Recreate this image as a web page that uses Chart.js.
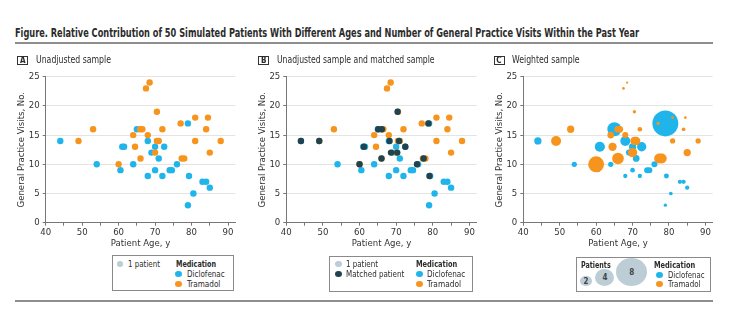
<!DOCTYPE html>
<html>
<head>
<meta charset="utf-8">
<script src="https://cdn.jsdelivr.net/npm/chart.js@4.4.1/dist/chart.umd.min.js"></script>
<style>
  html, body { margin: 0; padding: 0; background: #fff; }
  body {
    width: 740px; height: 323px; position: relative; overflow: hidden;
    font-family: 'Liberation Sans Narrow', 'DejaVu Sans Condensed', sans-serif;
    color: #2b2b2b;
  }
  .abs { position: absolute; white-space: nowrap; }
  canvas { position: absolute; }
  .rule { position: absolute; left: 15px; width: 698px; height: 2px; background: #8e8e8e; }
  .tag {
    position: absolute; box-sizing: border-box; width: 11px; height: 9px;
    border: 1px solid #333; font-size: 8px; font-weight: bold;
    text-align: center; line-height: 7px;
  }
  .lbox { position: absolute; box-sizing: border-box; border: 1px solid #8a8a8a; }
  .dot { position: absolute; border-radius: 50%; }
  .bub {
    position: absolute; border-radius: 50%; background: #bccdd6;
    display: flex; align-items: center; justify-content: center;
    font-size: 8px; font-weight: bold; color: #444;
  }
</style>
</head>
<body>
<canvas id="chartA" width="245" height="191" style="left:0px;top:62px;width:245px;height:191px"></canvas>
<canvas id="chartB" width="245" height="191" style="left:240px;top:62px;width:245px;height:191px"></canvas>
<canvas id="chartC" width="260" height="191" style="left:480px;top:62px;width:260px;height:191px"></canvas>

<script>
// Diclofenac patients (age, visits, weight in panel C)
const diclofenacAge    = [44, 54, 60.5, 61, 61.5, 64, 65, 68, 68, 69, 70, 70, 71, 72.5, 72, 74, 74.6, 76, 79, 79.3, 79, 80.5, 83, 84, 85];
const diclofenacVisits = [14, 10, 9, 13, 13, 10, 16, 14, 8, 12, 13, 9, 11, 13, 8, 9, 9, 10, 17, 8, 3, 5, 7, 7, 6];
const diclofenacWeight = [1.25, 0.8, 0.6, 1.94, 0.96, 0.8, 3.1, 1.94, 0.6, 0.96, 1.25, 0.68, 1.11, 1.76, 0.6, 0.96, 0.96, 0.96, 7.3, 0.74, 0.42, 0.49, 0.6, 0.6, 0.6];

// Tramadol patients
const tramadolAge    = [49, 53, 60, 64, 64.5, 65.9, 66.5, 66, 67.5, 68.5, 68, 70, 70.5, 71, 70.5, 72, 77, 77.3, 78, 81, 81, 84.5, 84, 85, 88];
const tramadolVisits = [14, 16, 10, 15, 13, 16, 16, 11, 23, 24, 15, 12, 14, 14, 19, 16, 17, 11, 11, 18, 14, 18, 16, 12, 14];
const tramadolWeight = [1.94, 1.25, 3.7, 1.11, 1.5, 1.11, 1.11, 2.4, 0.31, 0.25, 0.96, 1.76, 1.5, 1.5, 0.42, 0.68, 0.42, 1.94, 1.94, 0.31, 0.8, 0.31, 0.49, 1.25, 0.8];

// Matched patients (panel B)
const matchedAge    = [44, 49, 60, 61.2, 65.1, 66.1, 66, 68.2, 68.6, 70.3, 70.4, 70.8, 72.5, 75.7, 77.5, 78.8, 79.1];
const matchedVisits = [14, 14, 10, 13, 16, 16, 11, 14, 12, 12, 19, 14, 13, 10, 11, 17, 8];

// axes
const xTickLabels = [40, 50, 60, 70, 80, 90];
const yTickLabels = [0, 5, 10, 15, 20, 25];
const legendPatients = [2, 4, 8];

const blue = '#1fb5ea';
const orange = '#f7941d';
const dark = '#21434e';
const light = '#bccdd6';
const fam = "'Liberation Sans Narrow', 'DejaVu Sans Condensed', sans-serif";

const toPoints = (ages, visits) => ages.map((a, i) => ({ x: a, y: visits[i] }));
const bubbleR = (w) => 3.1 * Math.pow(w, 0.72);

function makePanel(id, geo, datasets) {
  const ctx = document.getElementById(id).getContext('2d');
  return new Chart(ctx, {
    type: 'scatter',
    data: { datasets: datasets },
    options: {
      responsive: false,
      animation: false,
      events: [],
      layout: { padding: { left: geo.padLeft, top: 14.7, right: geo.padRight, bottom: 0 } },
      plugins: { legend: { display: false }, tooltip: { enabled: false } },
      scales: {
        x: {
          type: 'linear', min: 40, max: 92,
          afterFit: (s) => { s.height = 30.3; },
          ticks: {
            stepSize: 5, includeBounds: false, autoSkip: false, maxRotation: 0,
            padding: 1, color: '#333', font: { family: fam, size: 9.5 },
            callback: (v) => (xTickLabels.includes(v) ? String(v) : ''),
          },
          grid: { drawOnChartArea: false, tickLength: 3, color: '#777', tickColor: '#777' },
          border: { color: '#777' },
          title: {
            display: true, text: 'Patient Age, y', color: '#333',
            font: { family: fam, size: 9.5 }, padding: { top: 0, bottom: 4 },
          },
        },
        y: {
          min: 0, max: 25,
          afterFit: (s) => { s.width = geo.yW; },
          ticks: {
            stepSize: 5, padding: 3, color: '#333', font: { family: fam, size: 9.5 },
            callback: (v) => (yTickLabels.includes(v) ? String(v) : ''),
          },
          grid: { color: '#e4e4e4', tickColor: '#777', tickLength: 3 },
          border: { color: '#777' },
          title: {
            display: true, text: 'General Practice Visits, No.', color: '#333',
            font: { family: fam, size: 9.5 }, padding: { top: 4, bottom: 0 },
          },
        },
      },
    },
  });
}

function dotSet(label, ages, visits, color, radius) {
  return {
    label: label,
    data: toPoints(ages, visits),
    backgroundColor: color,
    borderWidth: 0,
    pointRadius: radius,
  };
}

// A: unadjusted
makePanel('chartA', { padLeft: 12, padRight: 9.7, yW: 33.7 }, [
  dotSet('Tramadol', tramadolAge, tramadolVisits, orange, 3.2),
  dotSet('Diclofenac', diclofenacAge, diclofenacVisits, blue, 3.2),
]);

// B: unadjusted + matched
makePanel('chartB', { padLeft: 13.3, padRight: 8.3, yW: 33 }, [
  dotSet('Matched patient', matchedAge, matchedVisits, dark, 3.2),
  dotSet('Tramadol', tramadolAge, tramadolVisits, orange, 3.2),
  dotSet('Diclofenac', diclofenacAge, diclofenacVisits, blue, 3.2),
]);

// C: weighted
makePanel('chartC', { padLeft: 10, padRight: 27.3, yW: 33.3 }, [
  dotSet('Tramadol', tramadolAge, tramadolVisits, orange, (c) => bubbleR(tramadolWeight[c.dataIndex])),
  dotSet('Diclofenac', diclofenacAge, diclofenacVisits, blue, (c) => bubbleR(diclofenacWeight[c.dataIndex])),
]);

// ---- text & legends (html) ----
function txt(s, x, cy, w, size, bold) {
  const d = document.createElement('div');
  d.className = 'abs';
  d.textContent = s;
  d.style.left = x + 'px';
  d.style.top = (cy - 7) + 'px';
  d.style.fontSize = size + 'px';
  d.style.lineHeight = '14px';
  if (bold) d.style.fontWeight = 'bold';
  document.body.appendChild(d);
  if (w) {
    const m = d.getBoundingClientRect().width;
    d.style.transformOrigin = '0 50%';
    d.style.transform = 'scaleX(' + (w / m) + ')';
  }
  return d;
}
function el(cls, x, y, w, h, bg) {
  const d = document.createElement('div');
  d.className = cls;
  d.style.left = x + 'px';
  d.style.top = y + 'px';
  d.style.width = w + 'px';
  d.style.height = h + 'px';
  if (bg) d.style.background = bg;
  document.body.appendChild(d);
  return d;
}
const dot = (cx, cy, color) => el('dot', cx - 3.3, cy - 3, 6.6, 6, color);

txt('Figure. Relative Contribution of 50 Simulated Patients With Different Ages and Number of General Practice Visits Within the Past Year', 15, 33, 624, 11.5, true);
el('rule', 15, 42, 698, 2);
el('rule', 15, 299.5, 698, 2);

// panel tags
const tags = [['A', 17.3, 36, 'Unadjusted sample', 75], ['B', 258.3, 276.7, 'Unadjusted sample and matched sample', 157.6], ['C', 493.5, 511.7, 'Weighted sample', 67.6]];
tags.forEach(([t, bx, tx, label, w]) => {
  const b = el('tag', bx, 55.5, 11, 9);
  b.textContent = t;
  txt(label, tx, 60, w, 10, false);
});

// legend A
el('lbox', 112.3, 255.3, 121.7, 35.7);
dot(120, 264.3, light); txt('1 patient', 127.5, 264.3, 32, 9, false);
txt('Medication', 176, 264.3, 40, 9, true);
dot(178.7, 274.3, blue); txt('Diclofenac', 186.5, 274.3, 37.7, 9, false);
dot(178.7, 283.7, orange); txt('Tramadol', 186.5, 283.7, 33.4, 9, false);

// legend B
el('lbox', 329.3, 255.5, 143.4, 36.2);
dot(338.3, 264.3, light); txt('1 patient', 346.2, 264.3, 32, 9, false);
dot(338.3, 274.3, dark); txt('Matched patient', 346.2, 274.3, 58.3, 9, false);
txt('Medication', 416, 264.3, 41.3, 9, true);
dot(419.3, 274.3, blue); txt('Diclofenac', 427.2, 274.3, 38.3, 9, false);
dot(419.3, 283.7, orange); txt('Tramadol', 427.2, 283.7, 34, 9, false);

// legend C
el('lbox', 576, 257, 134.7, 34.7);
txt('Patients', 581, 265, 29.7, 9, true);
const bubCx = [586, 605, 631.7];
legendPatients.forEach((n, i) => {
  const r = bubbleR(n) * 1.13;
  const b = el('bub', bubCx[i] - r, 286.5 - 2 * r * 0.9, 2 * r, 2 * r * 0.9);
  b.textContent = String(n);
});
txt('Medication', 654.3, 265, 41.3, 9, true);
dot(659.3, 275, blue); txt('Diclofenac', 667.5, 275, 36.5, 9, false);
dot(659.3, 284.3, orange); txt('Tramadol', 667.5, 284.3, 32.5, 9, false);
</script>
</body>
</html>
